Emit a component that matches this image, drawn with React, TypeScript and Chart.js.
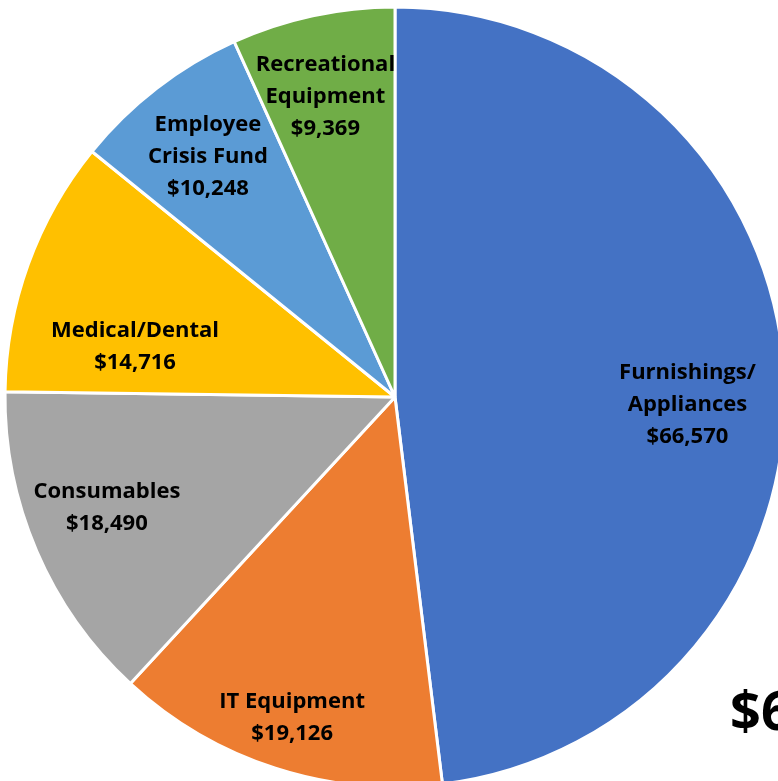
import React, { useEffect, useRef } from "react";
import { Chart, registerables } from "chart.js";

Chart.register(...registerables);

const categories = [
  ["Furnishings/", "Appliances"],
  ["IT Equipment"],
  ["Consumables"],
  ["Medical/Dental"],
  ["Employee", "Crisis Fund"],
  ["Recreational", "Equipment"],
];
const values = [66570, 19126, 18490, 14716, 10248, 9369];
const colors = ["#4472C4", "#ED7D31", "#A5A5A5", "#FFC000", "#5B9BD5", "#70AD47"];
// label placement: fraction of radius and angle tweak (degrees)
const labelRadius = [0.75, 0.86, 0.79, 0.68, 0.785, 0.795];
const labelAngleShift = [4.7, 0, 2.5, -8.5, 0, -0.8];
const cornerText = "$66,570";

const fmt = (v: number) => "$" + v.toLocaleString("en-US");

const labelPlugin = {
  id: "sliceLabels",
  afterDatasetsDraw(chart: any) {
    const ctx = chart.ctx;
    const meta = chart.getDatasetMeta(0);
    ctx.save();
    ctx.fillStyle = "#000";
    ctx.font = "bold 22px 'Open Sans', Lato, sans-serif";
    ctx.textAlign = "center";
    ctx.textBaseline = "middle";
    const lineH = 32;
    meta.data.forEach((arc: any, i: number) => {
      const { x, y, startAngle, endAngle, outerRadius } = arc.getProps(
        ["x", "y", "startAngle", "endAngle", "outerRadius"],
        true
      );
      const mid = (startAngle + endAngle) / 2 + (labelAngleShift[i] * Math.PI) / 180;
      const r = outerRadius * labelRadius[i];
      const cx = x + Math.cos(mid) * r;
      const cy = y + Math.sin(mid) * r + 2;
      const lines = [...categories[i], fmt(values[i])];
      const top = cy - ((lines.length - 1) * lineH) / 2;
      lines.forEach((t, k) => ctx.fillText(t, cx, top + k * lineH));
    });
    ctx.font = "bold 54px 'Open Sans', Lato, sans-serif";
    ctx.textAlign = "left";
    ctx.textBaseline = "alphabetic";
    ctx.fillText(cornerText, 730, 730);
    ctx.restore();
  },
};

export default function App() {
  const ref = useRef<HTMLCanvasElement | null>(null);
  useEffect(() => {
    if (!ref.current) return;
    const chart = new Chart(ref.current, {
      type: "pie",
      data: {
        labels: categories.map((c) => c.join(" ")),
        datasets: [
          {
            data: values,
            backgroundColor: colors,
            borderColor: "#ffffff",
            borderWidth: 3,
            hoverOffset: 0,
          },
        ],
      },
      options: {
        responsive: false,
        animation: false,
        radius: 390,
        layout: { padding: 0 },
        plugins: {
          legend: { display: false },
          tooltip: { enabled: false },
          title: { display: false },
        },
        events: [],
      } as any,
      plugins: [labelPlugin],
    });
    return () => chart.destroy();
  }, []);
  return (
    <div
      style={{
        position: "fixed",
        left: 0,
        top: 0,
        width: 778,
        height: 781,
        overflow: "hidden",
        background: "#fff",
      }}
    >
      <canvas
        ref={ref}
        width={790}
        height={794}
        style={{ position: "absolute", left: 0, top: 0, width: 790, height: 794 }}
      />
    </div>
  );
}
